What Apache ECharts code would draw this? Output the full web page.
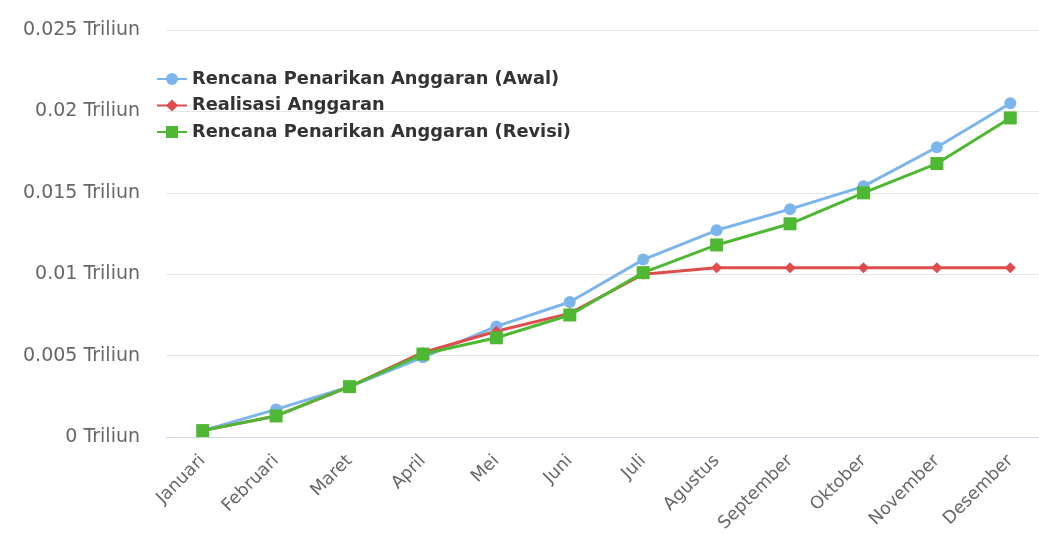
<!DOCTYPE html>
<html>
<head>
<meta charset="utf-8">
<script src="https://cdn.jsdelivr.net/npm/echarts@6/dist/echarts.min.js"></script>
<style>
html,body{margin:0;padding:0;background:#fff;overflow:hidden;}
#chart{width:1047px;height:535px;}
</style>
</head>
<body>
<div id="chart"></div>
<script>
const categories = ['Januari','Februari','Maret','April','Mei','Juni','Juli','Agustus','September','Oktober','November','Desember'];
const rencanaAwal = [0.0004, 0.0017, 0.0031, 0.0049, 0.0068, 0.0083, 0.0109, 0.0127, 0.0140, 0.0154, 0.0178, 0.0205];
const realisasi = [0.0004, 0.0013, 0.0031, 0.0052, 0.0065, 0.0076, 0.0100, 0.0104, 0.0104, 0.0104, 0.0104, 0.0104];
const rencanaRevisi = [0.0004, 0.0013, 0.0031, 0.0051, 0.0061, 0.0075, 0.0101, 0.0118, 0.0131, 0.0150, 0.0168, 0.0196];
const yTickLabels = ['0 Triliun','0.005 Triliun','0.01 Triliun','0.015 Triliun','0.02 Triliun','0.025 Triliun'];
const seriesNames = ['Rencana Penarikan Anggaran (Awal)','Realisasi Anggaran','Rencana Penarikan Anggaran (Revisi)'];

const chart = echarts.init(document.getElementById('chart'), null, {renderer:'canvas'});
const font = '"DejaVu Sans", sans-serif';
chart.setOption({
  animation: false,
  textStyle: {fontFamily: font},
  grid: {left: 166, right: 0, top: 30, bottom: 97, containLabel: false},
  legend: {
    orient: 'vertical', left: 151, top: 65, itemGap: 8.5, itemWidth: 30, itemHeight: 15,
    textStyle: {fontSize: 17.8, fontWeight: 'bold', color: '#333', fontFamily: font},
    data: seriesNames
  },
  xAxis: {
    type: 'category', data: categories, boundaryGap: true,
    axisLine: {lineStyle: {color: '#ccd6eb', width: 1}},
    axisTick: {show: false},
    axisLabel: {rotate: 45, fontSize: 17.5, color: '#666', margin: 21, interval: 0}
  },
  yAxis: {
    type: 'value', min: 0, max: 0.025, interval: 0.005,
    axisLine: {show: false}, axisTick: {show: false},
    splitLine: {lineStyle: {color: '#e6e6e6', width: 1}},
    axisLabel: {fontSize: 19, color: '#666', margin: 26, formatter: (v, i) => yTickLabels[i]}
  },
  series: [
    {name: seriesNames[0], type: 'line', data: rencanaAwal, symbol: 'circle', symbolSize: 12,
     itemStyle: {color: '#7cb5ec'}, lineStyle: {width: 3, color: '#7cb5ec'}},
    {name: seriesNames[1], type: 'line', data: realisasi, symbol: 'diamond', symbolSize: 11,
     itemStyle: {color: '#e04b4b'}, lineStyle: {width: 3, color: '#e04b4b'}},
    {name: seriesNames[2], type: 'line', data: rencanaRevisi, symbol: 'rect', symbolSize: 13,
     itemStyle: {color: '#4fb833'}, lineStyle: {width: 3, color: '#4fb833'}}
  ]
});
</script>
</body>
</html>
